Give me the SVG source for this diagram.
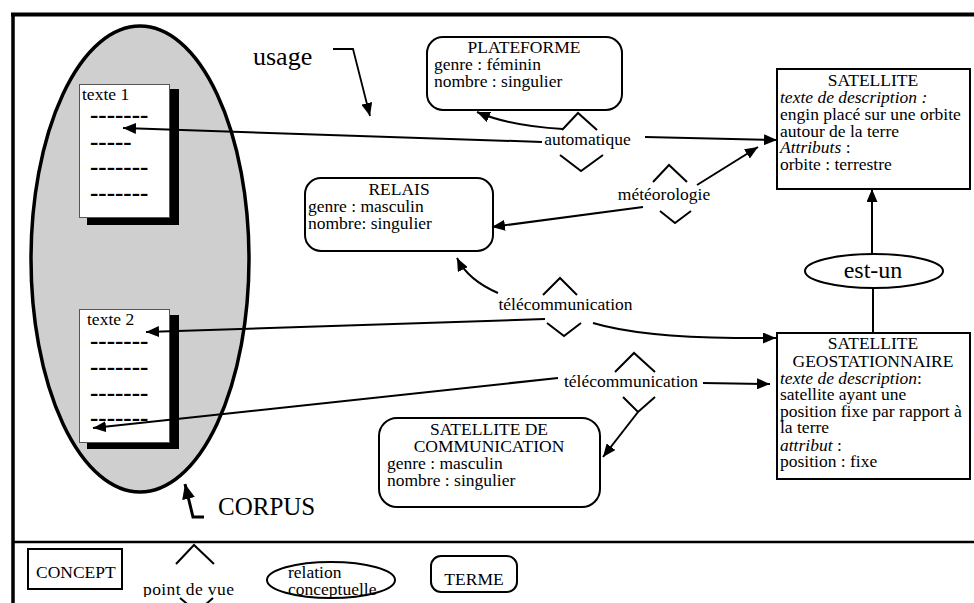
<svg xmlns="http://www.w3.org/2000/svg" width="974" height="603" viewBox="0 0 974 603">
<style>
text{font-family:"Liberation Serif","Times New Roman",serif;font-size:17.5px;fill:#000}
.c{text-anchor:middle}
.i{font-style:italic}
.big{font-size:25px}
.dash{font-size:25px;font-weight:bold}
.box{fill:#fff;stroke:#000;stroke-width:2}
.chev{fill:none;stroke:#000;stroke-width:2}
.ln{fill:none;stroke:#000;stroke-width:2}
</style>
<defs>
<marker id="ah" markerUnits="userSpaceOnUse" markerWidth="13" markerHeight="11" refX="13" refY="5.5" orient="auto">
<path d="M0,0 L13,5.5 L0,11 z" fill="#000"/>
</marker>
<marker id="ahb" markerUnits="userSpaceOnUse" markerWidth="15" markerHeight="13" refX="15" refY="6.5" orient="auto">
<path d="M0,0 L15,6.5 L0,13 z" fill="#000"/>
</marker>
<clipPath id="pvclip"><rect x="130" y="560" width="130" height="37"/></clipPath>
<clipPath id="relclip"><rect x="260" y="563" width="140" height="36"/></clipPath>
</defs>

<!-- frame -->
<g id="frame">
<rect x="0" y="0" width="974" height="603" fill="#fff"/>
<line x1="11" y1="14.5" x2="974" y2="14.5" stroke="#000" stroke-width="4"/>
<line x1="13" y1="13" x2="13" y2="603" stroke="#000" stroke-width="3.5"/>
<line x1="13" y1="542" x2="974" y2="542" stroke="#000" stroke-width="2.5"/>
</g>

<!-- corpus -->
<g id="corpus">
<ellipse cx="140" cy="259" rx="109" ry="233" fill="#cfcfcf" stroke="#000" stroke-width="3.5"/>
<text x="218" y="515" class="big">CORPUS</text>
<polyline points="204,517 193,517 185,484" fill="none" stroke="#000" stroke-width="3" marker-end="url(#ahb)"/>
</g>

<g id="texte1">
<rect x="87" y="89" width="92" height="136" fill="#000"/>
<rect x="79.5" y="84.5" width="90" height="133" fill="#fff" stroke="#555" stroke-width="1"/>
<text x="82" y="100">texte 1</text>
<text x="90" y="122.5" class="dash">-------</text>
<text x="90" y="149.5" class="dash">-----</text>
<text x="90" y="174.5" class="dash">-------</text>
<text x="90" y="200.5" class="dash">-------</text>
</g>

<g id="texte2">
<rect x="87" y="315" width="92" height="134" fill="#000"/>
<rect x="79.5" y="309.5" width="90" height="133" fill="#fff" stroke="#555" stroke-width="1"/>
<text x="87" y="325">texte 2</text>
<text x="90" y="348.5" class="dash">-------</text>
<text x="90" y="374.5" class="dash">-------</text>
<text x="90" y="400.5" class="dash">-------</text>
<text x="90" y="425.5" class="dash">-------</text>
</g>

<g id="usage">
<text x="253" y="65" class="big" style="font-size:26px">usage</text>
<polyline points="333,49 353,49 370,116" fill="none" stroke="#000" stroke-width="1.8" marker-end="url(#ah)"/>
</g>

<!-- nodes -->
<g id="plateforme">
<rect x="427" y="37" width="195" height="73" rx="16" class="box"/>
<text x="524" y="53" class="c">PLATEFORME</text>
<text x="434" y="70">genre : féminin</text>
<text x="434" y="87">nombre : singulier</text>
</g>

<g id="relais">
<rect x="305" y="178" width="188" height="73" rx="16" class="box"/>
<text x="399" y="195" class="c">RELAIS</text>
<text x="308" y="212">genre : masculin</text>
<text x="308" y="229">nombre: singulier</text>
</g>

<g id="satcom">
<rect x="379" y="418" width="221" height="89" rx="18" class="box"/>
<text x="489" y="435" class="c">SATELLITE DE</text>
<text x="489" y="452" class="c">COMMUNICATION</text>
<text x="387" y="469">genre : masculin</text>
<text x="387" y="486">nombre : singulier</text>
</g>

<g id="satellite">
<rect x="777" y="69" width="193" height="120" class="box"/>
<text x="873" y="86" class="c">SATELLITE</text>
<text x="780" y="103" class="i">texte de description :</text>
<text x="780" y="120">engin placé sur une orbite</text>
<text x="780" y="137">autour de la terre</text>
<text x="780" y="153"><tspan class="i">Attributs</tspan> :</text>
<text x="780" y="170">orbite : terrestre</text>
</g>

<g id="estun">
<ellipse cx="874" cy="271" rx="69" ry="17" fill="#fff" stroke="#000" stroke-width="2"/>
<text x="873" y="278" class="c" style="font-size:24px">est-un</text>
</g>

<g id="geo">
<rect x="777" y="333" width="193" height="146" class="box"/>
<text x="873" y="349" class="c">SATELLITE</text>
<text x="873" y="367" class="c">GEOSTATIONNAIRE</text>
<text x="780" y="384"><tspan class="i">texte de description</tspan>:</text>
<text x="780" y="400">satellite ayant une</text>
<text x="780" y="417">position fixe par rapport à</text>
<text x="780" y="433">la terre</text>
<text x="780" y="451"><tspan class="i">attribut</tspan> :</text>
<text x="780" y="467">position : fixe</text>
</g>

<!-- points de vue -->
<g id="pv-automatique">
<polyline points="562,130 578,113 597,130" class="chev"/>
<polyline points="560,155 581,171 603,155" class="chev"/>
<text x="587.5" y="145" class="c">automatique</text>
</g>
<g id="pv-meteorologie">
<polyline points="653,182 669,165 687,182" class="chev"/>
<polyline points="660,211 675,223 691,211" class="chev"/>
<text x="664" y="200" class="c">météorologie</text>
</g>
<g id="pv-telecom1">
<polyline points="543,295 560,278 577,295" class="chev"/>
<polyline points="547,323 564,336 581,323" class="chev"/>
<text x="565.5" y="310" class="c">télécommunication</text>
</g>
<g id="pv-telecom2">
<polyline points="615,372 634,353 655,372" class="chev"/>
<polyline points="623,397 638,412 655,397" class="chev"/>
<text x="631" y="387" class="c">télécommunication</text>
</g>

<!-- connectors -->
<g id="connectors">
<path d="M542,142 L123,128" class="ln" marker-end="url(#ah)"/>
<path d="M645,137 L777,140" class="ln" marker-end="url(#ah)"/>
<path d="M563,129 Q510,126 477,112" class="ln" marker-end="url(#ah)"/>
<path d="M643,207 L492,227" class="ln" marker-end="url(#ah)"/>
<path d="M697,185 L758,147" class="ln" marker-end="url(#ah)"/>
<path d="M545,319 L146,332" class="ln" marker-end="url(#ah)"/>
<path d="M593,323 Q640,337 735,338 L776,338" class="ln" marker-end="url(#ah)"/>
<path d="M498,293 Q468,280 457,258" class="ln" marker-end="url(#ah)"/>
<path d="M558,378 L93,428" class="ln" marker-end="url(#ah)"/>
<path d="M703,383 L770,384" class="ln" marker-end="url(#ah)"/>
<path d="M638,412 L603,457" class="ln" marker-end="url(#ah)"/>
<path d="M872,254 L872,189" class="ln" marker-end="url(#ah)"/>
<path d="M873,288 L873,333" class="ln"/>
</g>

<!-- legend -->
<g id="legend-concept">
<rect x="28" y="549" width="94" height="40" class="box"/>
<text x="36" y="578">CONCEPT</text>
</g>
<g id="legend-pointdevue">
<polyline points="176,564 194,545 214,564" class="chev"/>
<polyline points="180,598 197,612 213,598" class="chev"/>
<text x="143" y="595" clip-path="url(#pvclip)" style="letter-spacing:0.4px">point de vue</text>
</g>
<g id="legend-relation">
<ellipse cx="331" cy="580" rx="64" ry="18" fill="#fff" stroke="#000" stroke-width="2"/>
<g clip-path="url(#relclip)">
<text x="288" y="578">relation</text>
<text x="288" y="595">conceptuelle</text>
</g>
</g>
<g id="legend-terme">
<rect x="431" y="556" width="86" height="36" rx="10" class="box"/>
<text x="474" y="585" class="c">TERME</text>
</g>
</svg>
